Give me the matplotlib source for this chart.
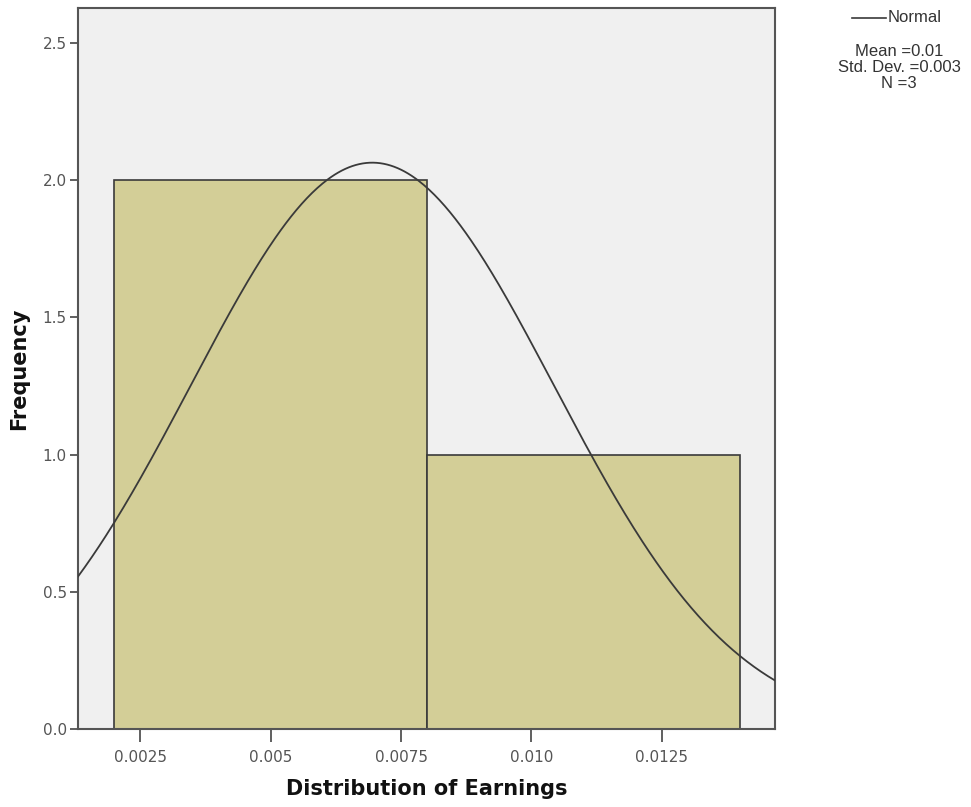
import numpy as np
import matplotlib
matplotlib.use("Agg")
import matplotlib.pyplot as plt
from matplotlib.lines import Line2D

# Data
bin_edges = [0.002, 0.008, 0.014]
counts = [2, 1]
fit_mean = 0.00695
fit_sd = 0.00348
n_obs = 3
x_ticks = [0.0025, 0.005, 0.0075, 0.010, 0.0125]
x_tick_labels = ["0.0025", "0.005", "0.0075", "0.010", "0.0125"]
y_ticks = [0.0, 0.5, 1.0, 1.5, 2.0, 2.5]
y_tick_labels = ["0.0", "0.5", "1.0", "1.5", "2.0", "2.5"]
legend_lines = ["Mean =0.01", "Std. Dev. =0.003", "N =3"]

W, H = 971, 807
fig = plt.figure(figsize=(W / 100, H / 100), dpi=100)
ax = fig.add_axes([78 / W, 1 - 729 / H, (775 - 78) / W, (729 - 8) / H])
ax.set_facecolor("#F0F0F0")

widths = np.diff(bin_edges)
ax.bar(bin_edges[:-1], counts, width=widths, align="edge",
       color="#D3CE97", edgecolor="#3A3A3A", linewidth=1.2, zorder=2)

xlim = (0.001312, 0.014665)
xs = np.linspace(xlim[0], xlim[1], 400)
binw = widths[0]
ys = n_obs * binw / (fit_sd * np.sqrt(2 * np.pi)) * np.exp(-0.5 * ((xs - fit_mean) / fit_sd) ** 2)
ax.plot(xs, ys, color="#3A3A3A", linewidth=1.3, zorder=3)

ax.set_xlim(*xlim)
ax.set_ylim(0, 2.627)
ax.set_xticks(x_ticks)
ax.set_xticklabels(x_tick_labels)
ax.set_yticks(y_ticks)
ax.set_yticklabels(y_tick_labels)
ax.tick_params(axis="x", direction="out", length=9, width=1.2, color="#444444",
               labelsize=11, labelcolor="#555555", pad=6)
ax.tick_params(axis="y", direction="out", length=6, width=1.2, color="#444444",
               labelsize=11, labelcolor="#555555", pad=2)
for s in ax.spines.values():
    s.set_color("#555555")
    s.set_linewidth(1.5)

ax.set_xlabel("Distribution of Earnings", fontsize=15, fontweight="bold",
              family="DejaVu Sans", labelpad=10, color="#111111")
ax.set_ylabel("Frequency", fontsize=15, fontweight="bold",
              family="DejaVu Sans", labelpad=10, color="#111111")

# Legend / stats box
fig.add_artist(Line2D([852 / W, 886 / W], [1 - 18 / H, 1 - 18 / H],
                      color="#3A3A3A", linewidth=1.2))
fig.text(888 / W, 1 - 18 / H, "Normal", fontsize=12, family="Liberation Sans",
         va="center", ha="left", color="#333333")
for i, t in enumerate(legend_lines):
    fig.text(899 / W, 1 - (52 + 15.5 * i) / H, t, fontsize=12,
             family="Liberation Sans", va="center", ha="center", color="#333333")

fig.savefig("out.png", dpi=100)
